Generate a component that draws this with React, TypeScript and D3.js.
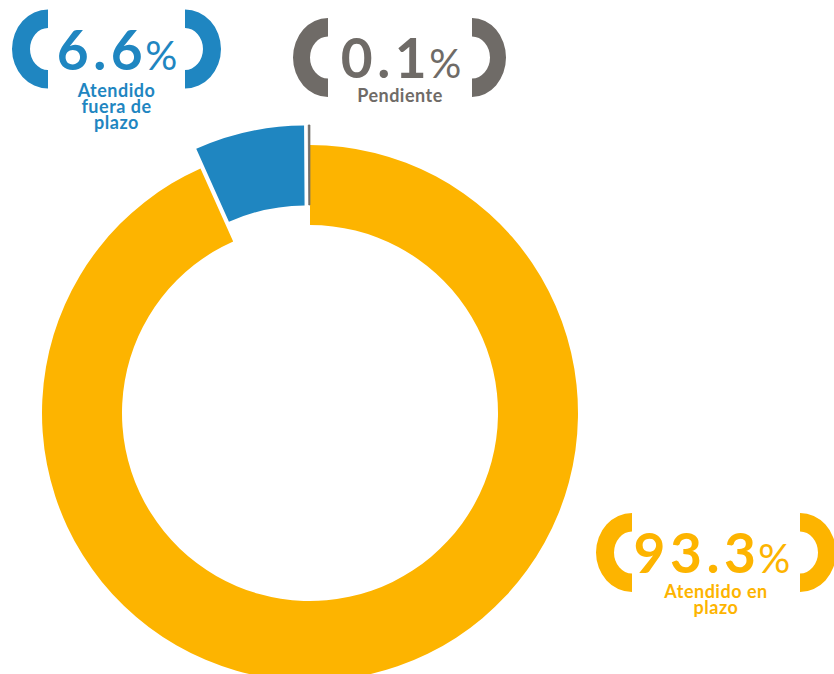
import React from "react";
import * as d3 from "d3";

const categories = ["Atendido en plazo", "Atendido fuera de plazo", "Pendiente"];
const values = [93.3, 6.6, 0.1];
const valueLabels = ["93.3", "6.6", "0.1"];
const colors = ["#FDB400", "#1F86C1", "#6F6B67"];
const exploded = [false, true, true];

const W = 834;
const H = 674;
const FONT = "Lato, 'Open Sans', sans-serif";

type Br = { x: number; cy: number; rox: number; roy: number; rix: number; riy: number };

function bracketPath(b: Br, left: boolean) {
  const s1 = left ? 0 : 1;
  const s2 = left ? 1 : 0;
  return `M${b.x},${b.cy - b.roy} A${b.rox},${b.roy} 0 0 ${s1} ${b.x},${b.cy + b.roy} L${b.x},${b.cy + b.riy} A${b.rix},${b.riy} 0 0 ${s2} ${b.x},${b.cy - b.riy} Z`;
}

type LabelLayout = {
  left: Br;
  right: Br;
  cx: number;
  baseline: number;
  subLines: string[];
  subBase: number;
};

const RO_X = 36;
const RO_Y = 39.5;
const RI_X = 18;
const RI_Y = 21;

const layouts: LabelLayout[] = [
  {
    left: { x: 632, cy: 552.5, rox: RO_X, roy: RO_Y, rix: RI_X, riy: RI_Y },
    right: { x: 800, cy: 552.5, rox: RO_X, roy: RO_Y, rix: RI_X, riy: RI_Y },
    cx: 712,
    baseline: 573,
    subLines: ["Atendido en", "plazo"],
    subBase: 598,
  },
  {
    left: { x: 48, cy: 49, rox: RO_X, roy: RO_Y, rix: RI_X, riy: RI_Y },
    right: { x: 185, cy: 49, rox: RO_X, roy: RO_Y, rix: RI_X, riy: RI_Y },
    cx: 117,
    baseline: 70,
    subLines: ["Atendido", "fuera de", "plazo"],
    subBase: 96.5,
  },
  {
    left: { x: 328, cy: 57.5, rox: 35, roy: RO_Y, rix: RI_X, riy: RI_Y },
    right: { x: 472, cy: 57.5, rox: 34, roy: RO_Y, rix: RI_X, riy: RI_Y },
    cx: 401,
    baseline: 78,
    subLines: ["Pendiente"],
    subBase: 102,
  },
];

export default function App() {
  const cx = 310;
  const cy = 413;
  const outerR = 268;
  const innerR = 188;
  const explode = 20;

  const pie = d3
    .pie<number>()
    .sort(null)
    .value((d) => d)
    .startAngle(0)
    .endAngle(2 * Math.PI);
  const arcs = pie(values);
  const arcGen = d3.arc<d3.PieArcDatum<number>>().innerRadius(innerR).outerRadius(outerR);

  return (
    <svg
      width={W}
      height={H}
      style={{ position: "absolute", left: 0, top: 0, background: "#fff" }}
      fontFamily={FONT}
    >
      <g transform={`translate(${cx},${cy})`}>
        {arcs.map((a, i) => {
          const mid = (a.startAngle + a.endAngle) / 2;
          const dx = exploded[i] ? Math.sin(mid) * explode : 0;
          const dy = exploded[i] ? -Math.cos(mid) * explode : 0;
          return (
            <path
              key={categories[i]}
              d={arcGen(a) || ""}
              fill={colors[i]}
              stroke={i === 2 ? colors[i] : "none"}
              strokeWidth={i === 2 ? 0.8 : 0}
              transform={`translate(${dx},${dy})`}
            />
          );
        })}
      </g>
      {layouts.map((l, i) => (
        <g key={categories[i]} fill={colors[i]}>
          <path d={bracketPath(l.left, true)} />
          <path d={bracketPath(l.right, false)} />
          <text x={l.cx} y={l.baseline} textAnchor="middle">
            <tspan fontSize={55} fontWeight={700} letterSpacing={4.5}>
              {valueLabels[i]}
            </tspan>
            <tspan fontSize={40} fontWeight={400} dx={-2}>
              %
            </tspan>
          </text>
          {l.subLines.map((s, j) => (
            <text
              key={j}
              x={(l.left.x + l.right.x) / 2}
              y={l.subBase + j * 16}
              textAnchor="middle"
              fontSize={18}
              fontWeight={700}
              letterSpacing={0.5}
            >
              {s}
            </text>
          ))}
        </g>
      ))}
    </svg>
  );
}
